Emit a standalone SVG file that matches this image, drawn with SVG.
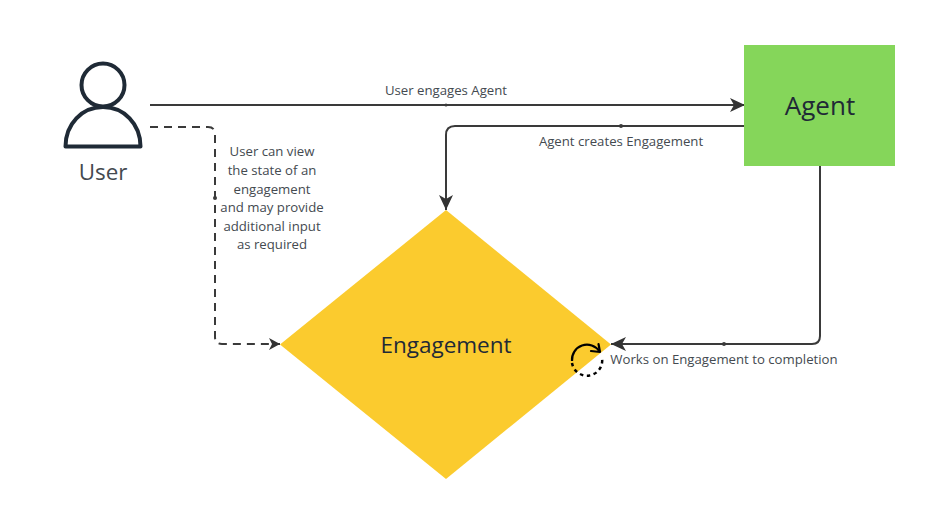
<svg xmlns="http://www.w3.org/2000/svg" width="940" height="510" viewBox="0 0 940 510">
<defs>
<style>
text{font-family:"Open Sans","Noto Sans",sans-serif;fill:#444a50;text-anchor:middle}
.lbl{font-size:13.200px}
.big{font-size:26px;fill:#1f2a36}
.con{fill:none;stroke:#3a3a3a;stroke-width:2}
.dash{stroke-dasharray:8 6}
.dot{fill:#3a3a3a}
</style>
<marker id="arr" viewBox="0 0 16 14" refX="15" refY="7" markerWidth="16" markerHeight="14" markerUnits="userSpaceOnUse" orient="auto"><path d="M0 0L15 7L0 14L4 7Z" fill="#333"/></marker>
<marker id="arrs" viewBox="0 0 12 12" refX="11" refY="6" markerWidth="12" markerHeight="12" markerUnits="userSpaceOnUse" orient="auto"><path d="M0 0L11 6L0 12L3 6Z" fill="#333"/></marker>
</defs>
<rect width="940" height="510" fill="#fff"/>
<g id="connectors">
<path class="con" d="M150 105H745" marker-end="url(#arr)"/>
<circle class="dot" cx="446" cy="105" r="1.500"/>
<path class="con" d="M744 126H455Q446 126 446 135V210" marker-end="url(#arr)"/>
<circle class="dot" cx="621" cy="126" r="2"/>
<path class="con" d="M820 166V336Q820 344 812 344H611" marker-end="url(#arr)"/>
<circle class="dot" cx="724" cy="344" r="2"/>
<path class="con dash" d="M150 127H208Q215 127 215 134V337Q215 344 222 344H280" marker-end="url(#arrs)"/>
<circle class="dot" cx="215" cy="198" r="2"/>
<text class="lbl" x="446" y="95">User engages Agent</text>
<text class="lbl" x="621" y="146">Agent creates Engagement</text>
<text class="lbl" x="724" y="364">Works on Engagement to completion</text>
<text class="lbl" x="272" y="156">User can view</text>
<text class="lbl" x="272" y="175">the state of an</text>
<text class="lbl" x="272" y="194">engagement</text>
<text class="lbl" x="272" y="212">and may provide</text>
<text class="lbl" x="272" y="231">additional input</text>
<text class="lbl" x="272" y="249">as required</text>
</g>
<g id="user">
<circle cx="103" cy="85" r="21.500" fill="none" stroke="#1f2a36" stroke-width="4"/>
<path d="M65.500 146.500C65.500 124 82 107 103 107C124 107 140.500 124 140.500 146.500Z" fill="none" stroke="#1f2a36" stroke-width="4" stroke-linejoin="round"/>
<text x="103" y="180" font-size="22.400">User</text>
</g>
<g id="agent">
<rect x="744" y="45" width="151" height="121" fill="#85d65a"/>
<text class="big" x="820" y="115">Agent</text>
</g>
<g id="engagement">
<path d="M446 210L611 344.500L446 479L280 344.500Z" fill="#fbcb2e"/>
<text class="big" x="446" y="353" style="font-size:22.500px">Engagement</text>
<path d="M572 361A15 15 0 0 1 599.500 351.500" fill="none" stroke="#000" stroke-width="2.200"/>
<path d="M591 351L600 352L598.500 344" fill="none" stroke="#000" stroke-width="2.200" stroke-linejoin="round" stroke-linecap="round"/>
<path d="M572 363A15 15 0 0 0 602 358" fill="none" stroke="#000" stroke-width="2.500" stroke-dasharray="3.500 3.500"/>
</g>
</svg>
